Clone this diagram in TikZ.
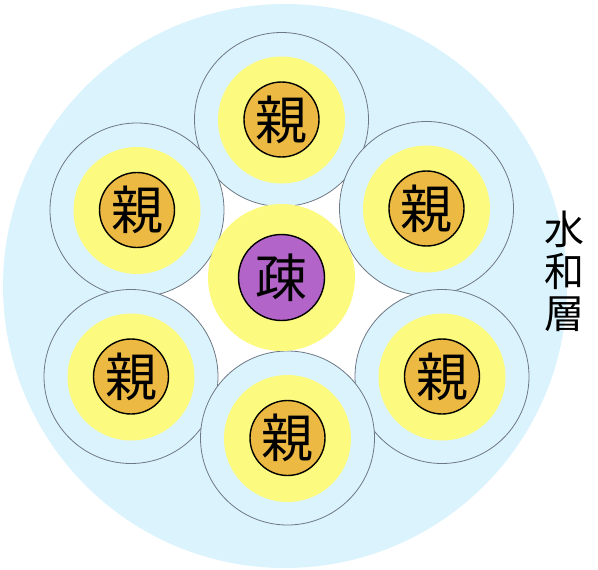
\documentclass[tikz,border=0pt]{standalone}
\usepackage{fontspec}
\newfontfamily\cjk{Noto Sans CJK JP}
\definecolor{hydro}{RGB}{218,243,253}
\definecolor{shell}{RGB}{252,251,128}
\definecolor{philic}{RGB}{236,185,66}
\definecolor{phobic}{RGB}{179,100,200}
\definecolor{rim}{RGB}{110,120,132}
\tikzset{
  water/.style={circle, fill=hydro, inner sep=0pt, minimum size=564pt},
  voidzone/.style={circle, fill=white, inner sep=0pt, minimum size=300pt},
  layer/.style={circle, fill=hydro, draw=rim, line width=0.8pt, minimum size=174pt, inner sep=0pt},
  halo/.style={circle, fill=shell, minimum size=127pt, inner sep=0pt},
  bighalo/.style={circle, fill=shell, minimum size=147pt, inner sep=0pt},
  core/.style={circle, fill=philic, draw=black, line width=1.4pt, minimum size=75pt, inner sep=0pt, font=\cjk\fontsize{52}{52}\selectfont},
  center/.style={circle, fill=phobic, draw=black, line width=1.4pt, minimum size=86pt, inner sep=0pt, font=\cjk\fontsize{52}{52}\selectfont},
  label/.style={align=center, inner sep=0pt, font=\cjk\fontsize{40}{42}\selectfont},
}
\begin{document}
\begin{tikzpicture}[x=1pt,y=-1pt]
\useasboundingbox (0,0) rectangle (598,570);
\node[water] (w) at (285,286) {};
\node[voidzone] (v) at (281.5,277.5) {};
% outer molecules
\node[layer] (l1) at (281.5,119.5) {};
\node[halo] (h1) at (281.5,120) {};
\node[core] (c1) at (281.5,119.5) {親};
\node[layer] (l2) at (137,210) {};
\node[halo] (h2) at (137,210.5) {};
\node[core] (c2) at (137,210) {親};
\node[layer] (l3) at (426.5,208.5) {};
\node[halo] (h3) at (426.5,209) {};
\node[core] (c3) at (426.5,208.5) {親};
\node[layer] (l4) at (131,376.5) {};
\node[halo] (h4) at (131,377) {};
\node[core] (c4) at (131,376.5) {親};
\node[layer] (l5) at (442,376.5) {};
\node[halo] (h5) at (442,377) {};
\node[core] (c5) at (442,376.5) {親};
\node[layer] (l6) at (287.5,438) {};
\node[halo] (h6) at (287.5,438.5) {};
\node[core] (c6) at (287.5,438) {親};
% centre
\node[bighalo] (h0) at (281.5,277.5) {};
\node[center] (c0) at (281.5,277.5) {疎};
% label
\node[label] (t) at (564,271) {水\\和\\層};
\end{tikzpicture}
\end{document}
